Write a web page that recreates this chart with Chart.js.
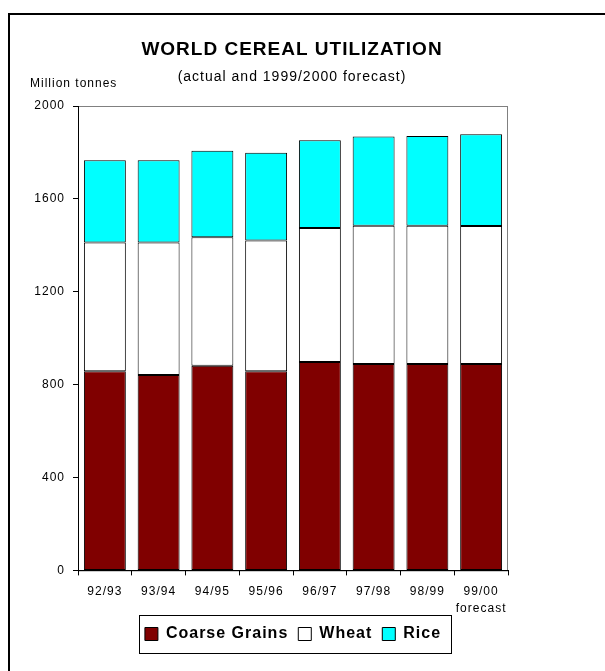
<!DOCTYPE html>
<html>
<head>
<meta charset="utf-8">
<script src="https://cdn.jsdelivr.net/npm/chart.js@4"></script>
<style>
body{margin:0;background:#fff;}
</style>
</head>
<body>
<canvas id="myChart" width="605" height="671"></canvas>
<script>
// seasons on the x axis, last one is the forecast
var seasons=['92/93','93/94','94/95','95/96','96/97','97/98','98/99',['99/00','forecast']];
// million tonnes
var coarseGrains=[858,842,881,858,897,889,889,889];
var wheat=[554,570,554,563,578,595,595,594];
var rice=[354,354,372,378,378,385,387,395];
var yTicks=[0,400,800,1200,1600,2000];

Chart.defaults.font.family="'Liberation Sans', Arial, sans-serif";
Chart.defaults.color='#000';

var frame={
  id:'frame',
  beforeUpdate:function(chart){
    chart.ctx.letterSpacing='1px';
  },
  beforeDraw:function(chart){
    var ctx=chart.ctx, a=chart.chartArea;
    ctx.save();
    ctx.fillStyle='#fff';
    ctx.fillRect(0,0,chart.width,chart.height);
    // outer frame, runs off the right and bottom
    ctx.strokeStyle='#000';
    ctx.lineWidth=2;
    ctx.beginPath();
    ctx.moveTo(9,chart.height);
    ctx.lineTo(9,14);
    ctx.lineTo(chart.width,14);
    ctx.stroke();
    // plot area edge
    ctx.strokeStyle='#808080';
    ctx.lineWidth=1;
    ctx.strokeRect(a.left+0.5,a.top+0.5,a.right-a.left-1,a.bottom-a.top);
    // titles
    ctx.fillStyle='#000';
    ctx.textAlign='center';
    ctx.textBaseline='middle';
    ctx.letterSpacing='1px';
    ctx.font="bold 19px 'Liberation Sans', Arial, sans-serif";
    ctx.fillText('WORLD CEREAL UTILIZATION',292,50);
    ctx.font="14px 'Liberation Sans', Arial, sans-serif";
    ctx.fillText('(actual and 1999/2000 forecast)',292,77);
    ctx.textAlign='left';
    ctx.font="12px 'Liberation Sans', Arial, sans-serif";
    ctx.fillText('Million tonnes',30,84);
    ctx.restore();
  },
  afterDraw:function(chart){
    var boxes=chart.legend.legendHitBoxes;
    if(!boxes||!boxes.length) return;
    var l=Infinity,r=-Infinity,t=Infinity,b=-Infinity;
    boxes.forEach(function(h){
      l=Math.min(l,h.left); r=Math.max(r,h.left+h.width);
      t=Math.min(t,h.top); b=Math.max(b,h.top+h.height);
    });
    var ctx=chart.ctx;
    ctx.save();
    ctx.strokeStyle='#000';
    ctx.lineWidth=1;
    var cy=(t+b)/2;
    ctx.strokeRect(Math.round(l-6)+0.5,Math.round(cy-19)+0.5,Math.round(r-l+16),38);
    ctx.restore();
  }
};

var ctx=document.getElementById('myChart').getContext('2d');
var chart=new Chart(ctx,{
  type:'bar',
  data:{
    labels:seasons,
    datasets:[
      {label:'Coarse Grains',data:coarseGrains,backgroundColor:'#800000',borderColor:'#000',borderWidth:1,borderSkipped:false},
      {label:'Wheat',data:wheat,backgroundColor:'#ffffff',borderColor:'#000',borderWidth:1,borderSkipped:false},
      {label:'Rice',data:rice,backgroundColor:'#00ffff',borderColor:'#000',borderWidth:1,borderSkipped:false}
    ]
  },
  options:{
    responsive:false,
    animation:false,
    devicePixelRatio:1,
    layout:{padding:{top:106,right:97,bottom:19,left:0}},
    datasets:{bar:{categoryPercentage:1,barPercentage:0.78}},
    plugins:{
      title:{display:false},
      tooltip:{enabled:false},
      legend:{
        position:'bottom',
        fullSize:false,
        labels:{
          boxWidth:13,
          boxHeight:13,
          padding:10,
          color:'#000',
          font:{size:16,weight:'bold'}
        }
      }
    },
    scales:{
      x:{
        stacked:true,
        afterFit:function(scale){scale.height=scale.height-9;},
        grid:{display:true,drawOnChartArea:false,offset:true,tickLength:5,tickColor:'#000'},
        border:{color:'#000'},
        ticks:{padding:8,maxRotation:0,autoSkip:false,color:'#000',font:{size:12,lineHeight:1.4}}
      },
      y:{
        stacked:true,
        min:0,
        max:2000,
        afterFit:function(scale){scale.width=78;},
        afterBuildTicks:function(scale){scale.ticks=yTicks.map(function(v){return {value:v};});},
        grid:{display:true,drawOnChartArea:false,tickLength:5,tickColor:'#000'},
        border:{color:'#000'},
        ticks:{
          padding:8,
          color:'#000',
          font:{size:12},
          callback:function(v){return String(v);}
        }
      }
    }
  },
  plugins:[frame]
});
</script>
</body>
</html>
